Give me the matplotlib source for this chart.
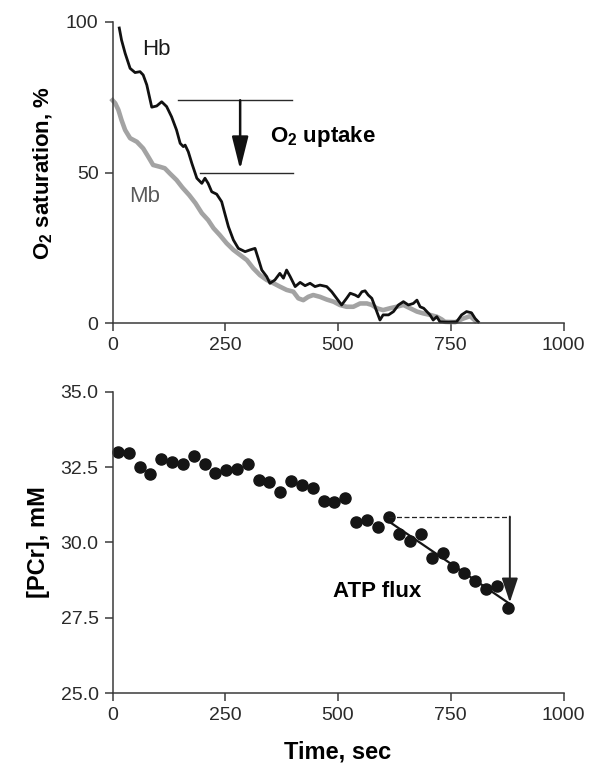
import numpy as np
import matplotlib
matplotlib.use("Agg")
from matplotlib import pyplot as plt

# top panel: O2 saturation traces
hb_t = [15, 20, 28, 39, 50, 61, 68, 76, 87, 98, 109, 120, 131, 142, 150, 157, 161, 168, 176, 187,
        198, 205, 212, 220, 231, 242, 249, 257, 268, 279, 294, 305, 316, 323, 331, 342, 349, 360, 371, 379,
        386, 394, 405, 416, 427, 438, 449, 460, 475, 486, 497, 508, 519, 527, 538, 545, 553, 560, 567, 575,
        582, 593, 600, 612, 623, 634, 645, 656, 667, 675, 682, 690, 697, 704, 711, 719, 726, 745, 763, 774,
        785, 796, 804, 811]
hb_sat = [98, 94, 89.6, 84.6, 83.2, 83.5, 82.4, 79.1, 71.7, 72.1, 73.5, 71.9, 68.5, 64.1, 59.7, 58.6, 59.1, 56.9, 53, 48.1,
          46.4, 48.1, 46.4, 43.6, 42.8, 40.3, 36.4, 32, 27.6, 24.8, 23.7, 24.3, 24.8, 21.5, 17.6, 15.4, 13.2, 14.3, 16.5, 14.9,
          17.6, 15.4, 12.1, 13.5, 12.4, 13.2, 12.1, 12.6, 12.1, 10.4, 8.2, 6.0, 8.2, 9.9, 9.3, 8.7, 10.4, 10.7, 9.3, 8.2,
          5.4, 1.0, 2.7, 2.7, 3.8, 6.0, 7.1, 6.0, 6.5, 7.6, 5.4, 4.9, 3.8, 2.7, 1.0, 2.1, 0.4, 0.3, 0.4, 2.7,
          3.8, 3.4, 1.5, 0.4]

mb_t = [0, 6, 13, 20, 28, 39, 54, 68, 79, 90, 105, 116, 127, 142, 155, 170, 184, 198, 212, 224,
        238, 253, 268, 283, 298, 312, 327, 342, 357, 371, 386, 401, 412, 423, 434, 445, 460, 475, 490, 504,
        519, 534, 549, 564, 575, 586, 600, 615, 630, 645, 660, 675, 689, 704, 719, 730, 737, 760, 778, 793, 804]
mb_sat = [74, 73, 70.8, 67.4, 64.1, 61.4, 60.2, 58, 55.3, 52.5, 51.9, 51.4, 49.7, 47.5, 45, 42.5, 39.8, 36.5, 34.2, 31.5,
          29.2, 26.5, 24.3, 22.6, 20.9, 18.2, 15.9, 14.3, 13.2, 12.1, 11.0, 10.4, 8.2, 7.6, 8.7, 9.3, 8.7, 7.8, 7.1, 6.0,
          5.4, 5.4, 6.5, 6.5, 6.0, 4.9, 4.3, 4.9, 5.4, 6.0, 4.9, 3.8, 3.2, 2.7, 2.1, 1.2, 0.4, 0.3, 1.5, 2.3, 0.8]

# bottom panel: PCr
pcr_t = [12, 36, 60, 84, 108, 132, 156, 180, 204, 228, 252, 276, 300, 324, 348, 372, 396, 420, 444,
         468, 492, 516, 540, 564, 588, 612, 636, 660, 684, 708, 732, 756, 780, 804, 828, 852, 876]
pcr = [33.0, 32.96, 32.5, 32.27, 32.77, 32.66, 32.61, 32.88, 32.60, 32.30, 32.41, 32.43, 32.62, 32.08, 32.02,
       31.69, 32.04, 31.91, 31.80, 31.38, 31.35, 31.49, 30.69, 30.75, 30.52, 30.86, 30.27, 30.06, 30.28, 29.47,
       29.66, 29.20, 28.98, 28.72, 28.44, 28.55, 27.81]

time_ticks = [0, 250, 500, 750, 1000]

plt.rcParams["font.family"] = "Liberation Sans"
plt.rcParams["mathtext.fontset"] = "custom"
plt.rcParams["mathtext.rm"] = "Liberation Sans"
plt.rcParams["mathtext.bf"] = "Liberation Sans:bold"
plt.rcParams["font.size"] = 14

axis_col = "#3a3a3a"


def style_axes(ax):
    for s in ["top", "right"]:
        ax.spines[s].set_visible(False)
    for s in ["left", "bottom"]:
        ax.spines[s].set_color(axis_col)
        ax.spines[s].set_linewidth(1.1)
    ax.tick_params(direction="out", length=6, width=1.1, color=axis_col,
                   labelsize=14, labelcolor="#2a2a2a", pad=4)
    ax.set_xlim(0, 1000)
    ax.set_xticks(time_ticks)


fig = plt.figure(figsize=(5.9, 7.66), dpi=100)

# ---- top panel
ax1 = fig.add_axes([0.1907, 0.5783, 0.7644, 0.393])
style_axes(ax1)
ax1.plot(mb_t, mb_sat, color="#a3a3a3", lw=3.3, solid_joinstyle="round", clip_on=False)
ax1.plot(hb_t, hb_sat, color="#111111", lw=2.0, clip_on=False)
ax1.set_ylim(0, 100)
ax1.set_yticks([0, 50, 100])
ax1.set_ylabel(r"$\mathbf{O_2}$ saturation, %", fontsize=16, fontweight="bold", labelpad=8)

ax1.text(98, 91, "Hb", fontsize=16, color="#1a1a1a", ha="center", va="center")
ax1.text(72, 42, "Mb", fontsize=16, color="#5a5a5a", ha="center", va="center")

ax1.plot([146, 397], [74, 74], color="#2a2a2a", lw=1.0)
ax1.plot([194, 400], [50, 50], color="#2a2a2a", lw=1.0)
ax1.annotate("", xy=(283, 51), xytext=(283, 74),
             arrowprops=dict(arrowstyle="-|>,head_length=0.8,head_width=0.2", mutation_scale=25,
                             lw=1.8, color="#111111", shrinkA=0, shrinkB=0))
ax1.text(349, 62, r"$\mathbf{O_2}$ uptake", fontsize=16, fontweight="bold", ha="left", va="center")

# ---- bottom panel
ax2 = fig.add_axes([0.1907, 0.0953, 0.7644, 0.393])
style_axes(ax2)
ax2.plot(pcr_t, pcr, "o", color="#151515", markersize=8, clip_on=False)
ax2.set_ylim(25, 35)
ax2.set_yticks([25, 27.5, 30, 32.5, 35])
ax2.set_yticklabels(["25.0", "27.5", "30.0", "32.5", "35.0"])
ax2.set_xlabel("Time, sec", fontsize=17, fontweight="bold", labelpad=12)
ax2.set_ylabel("[PCr], mM", fontsize=17, fontweight="bold", labelpad=8)

# linear fit over the late phase
fit_t = np.array([t for t in pcr_t if t >= 612])
fit_v = np.array([v for t, v in zip(pcr_t, pcr) if t >= 612])
k, b = np.polyfit(fit_t, fit_v, 1)
x_end = 881
ax2.plot([fit_t[0], x_end], [k * fit_t[0] + b, k * x_end + b], color="#151515", lw=1.6)

top_level = pcr[pcr_t.index(612)]
ax2.plot([612, x_end], [top_level, top_level], color="#222222", lw=0.9, ls=(0, (4, 2)))
ax2.annotate("", xy=(x_end, k * x_end + b + 0.05), xytext=(x_end, top_level),
             arrowprops=dict(arrowstyle="-|>,head_length=0.6,head_width=0.2", mutation_scale=25,
                             lw=1.4, color="#222222", shrinkA=0, shrinkB=0))
ax2.text(489, 28.36, "ATP flux", fontsize=16, fontweight="bold", ha="left", va="center")

fig.savefig("out.png", dpi=100)
